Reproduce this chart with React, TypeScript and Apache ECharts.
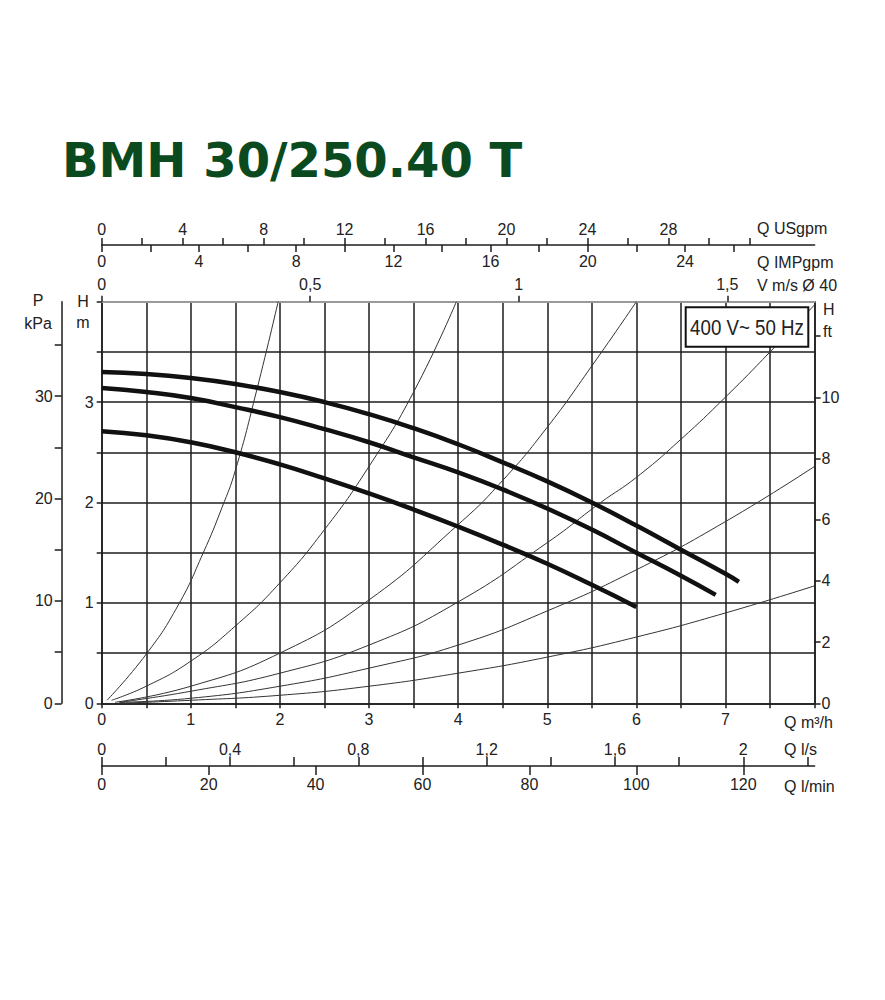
import { useEffect, useRef } from 'react';
import * as echarts from 'echarts';

// pump curves, Q m3/h -> H m
const pumpHigh: [number, number][] = [
  [0, 3.3], [0.5, 3.28], [1, 3.24], [1.5, 3.18], [2, 3.1], [2.5, 3.0], [3, 2.88], [3.5, 2.74],
  [4, 2.58], [4.5, 2.4], [5, 2.21], [5.5, 2.0], [6, 1.77], [6.5, 1.53], [7, 1.29], [7.15, 1.21],
];
const pumpMid: [number, number][] = [
  [0, 3.14], [0.5, 3.1], [1, 3.04], [1.5, 2.95], [2, 2.85], [2.5, 2.73], [3, 2.6], [3.5, 2.45],
  [4, 2.3], [4.5, 2.13], [5, 1.94], [5.5, 1.73], [6, 1.5], [6.5, 1.27], [6.89, 1.08],
];
const pumpLow: [number, number][] = [
  [0, 2.71], [0.5, 2.67], [1, 2.6], [1.5, 2.5], [2, 2.38], [2.5, 2.24], [3, 2.09], [3.5, 1.93],
  [4, 1.76], [4.5, 1.58], [5, 1.39], [5.5, 1.18], [6, 0.96],
];

// system curves (thin lines)
const sys1: [number, number][] = [[0.06, 0.03], [0.5, 0.49], [0.86, 0.98], [1.14, 1.5], [1.35, 1.95], [1.5, 2.32], [1.74, 3.12], [1.98, 4.0]];
const sys2: [number, number][] = [[0.11, 0.03], [0.5, 0.17], [1, 0.42], [1.5, 0.77], [2, 1.2], [2.5, 1.73], [3, 2.36], [3.5, 3.1], [3.98, 4.0]];
const sys3: [number, number][] = [[0.15, 0.01], [1, 0.17], [2, 0.5], [3, 1.03], [4, 1.78], [4.5, 2.22], [5, 2.75], [5.5, 3.36], [6, 4.0]];
const sys4: [number, number][] = [[0.2, 0.01], [1, 0.12], [2, 0.3], [3, 0.58], [4, 1.01], [5, 1.6], [5.6, 2.0], [6, 2.25], [6.5, 2.63], [7, 3.05], [7.5, 3.5], [8, 3.97]];
const sys5: [number, number][] = [[0.2, 0.01], [1, 0.05], [2, 0.17], [3, 0.35], [4, 0.58], [5, 0.92], [6, 1.33], [7, 1.81], [8, 2.36]];
const sys6: [number, number][] = [[0.2, 0.0], [1, 0.03], [2, 0.08], [3, 0.17], [4, 0.3], [5, 0.46], [6, 0.66], [7, 0.9], [8, 1.17]];

// tick / label values per axis
const flowLabels = [0, 1, 2, 3, 4, 5, 6, 7];
const headLabels = [0, 1, 2, 3];
const lsTicks = [0, 0.2, 0.4, 0.6, 0.8, 1, 1.2, 1.4, 1.6, 1.8, 2, 2.2];
const lsLabels = [0, 0.4, 0.8, 1.2, 1.6, 2];
const lminTicks = [0, 20, 40, 60, 80, 100, 120];
const velTicks = [0, 0.5, 1, 1.5];
const usTicks = [0, 2, 4, 6, 8, 10, 12, 14, 16, 18, 20, 22, 24, 26, 28, 30, 32];
const usLabels = [0, 4, 8, 12, 16, 20, 24, 28];
const impTicks = [0, 2, 4, 6, 8, 10, 12, 14, 16, 18, 20, 22, 24, 26];
const impLabels = [0, 4, 8, 12, 16, 20, 24];
const kpaTicks = [0, 5, 10, 15, 20, 25, 30, 35];
const kpaLabels = [0, 10, 20, 30];
const ftTicks = [0, 2, 4, 6, 8, 10, 12];
const ftLabels = [0, 2, 4, 6, 8, 10];

const dark = '#1c1c1c';
const txt = { fontFamily: 'Liberation Sans', fontSize: 16, color: '#222' };
const comma = (v: number) => String(v).replace('.', ',');

const label = (text: string, x: number, y: number, align = 'left') => ({
  type: 'text',
  x: x - 8,
  y: y - 8,
  z: 50,
  style: {
    text,
    fill: '#222',
    font: '16px "Liberation Sans"',
    textAlign: align,
    textVerticalAlign: 'middle',
  },
});

export default function App() {
  const chartRef = useRef<HTMLDivElement>(null);

  useEffect(() => {
    const chart = echarts.init(chartRef.current, null, { renderer: 'svg' });

    const pump = (data: [number, number][]) => ({
      type: 'line', data, smooth: true, symbol: 'none', silent: true, z: 5,
      lineStyle: { color: '#111', width: 4.5 },
    });
    const sys = (data: [number, number][]) => ({
      type: 'line', data, smooth: true, symbol: 'none', silent: true, z: 3,
      lineStyle: { color: '#333', width: 1 },
    });

    chart.setOption({
      animation: false,
      grid: { left: 93.7, top: 293.7, width: 712.9, height: 401.6, outerBoundsMode: 'none' },
      xAxis: [
        {
          type: 'value', position: 'bottom', min: 0, max: 8, interval: 0.5,
          axisLine: { show: true, onZero: false, lineStyle: { color: dark, width: 1.5 } },
          axisTick: { show: true, length: 5, lineStyle: { color: dark, width: 1.5 } },
          axisLabel: { ...txt, margin: 8, customValues: flowLabels },
          splitLine: { show: true, lineStyle: { color: dark, width: 1.5 } },
        },
        {
          type: 'value', position: 'bottom', offset: 62.7, min: 0, max: 8 / 3.6,
          axisLine: { show: true, onZero: false, lineStyle: { color: dark, width: 1.5 } },
          axisTick: { show: true, inside: true, length: 9, customValues: lsTicks, lineStyle: { color: dark, width: 1.5 } },
          axisLabel: { ...txt, inside: true, margin: 9, customValues: lsLabels, formatter: comma },
          splitLine: { show: false },
        },
        {
          type: 'value', position: 'bottom', offset: 62.7, min: 0, max: 8 / 0.06,
          axisLine: { show: false, onZero: false },
          axisTick: { show: true, length: 9, customValues: lminTicks, lineStyle: { color: dark, width: 1.5 } },
          axisLabel: { ...txt, margin: 10, customValues: lminTicks },
          splitLine: { show: false },
        },
        {
          type: 'value', position: 'top', offset: 0, min: 0, max: 8 / 4.68,
          axisLine: { show: true, onZero: false, lineStyle: { color: '#9a9a9a', width: 2 } },
          axisTick: { show: true, length: 6, customValues: velTicks, lineStyle: { color: dark, width: 1.5 } },
          axisLabel: { ...txt, margin: 9, customValues: velTicks, formatter: comma },
          splitLine: { show: false },
        },
        {
          type: 'value', position: 'top', offset: 56.7, min: 0, max: 8 / 0.2271247,
          axisLine: { show: true, onZero: false, lineStyle: { color: dark, width: 1.5 } },
          axisTick: { show: true, length: 7, customValues: usTicks, lineStyle: { color: dark, width: 1.5 } },
          axisLabel: { ...txt, margin: 8, customValues: usLabels },
          splitLine: { show: false },
        },
        {
          type: 'value', position: 'top', offset: 56.7, min: 0, max: 8 / 0.2727654,
          axisLine: { show: false, onZero: false },
          axisTick: { show: true, inside: true, length: 7, customValues: impTicks, lineStyle: { color: dark, width: 1.5 } },
          axisLabel: { ...txt, inside: true, margin: 8, customValues: impLabels },
          splitLine: { show: false },
        },
      ],
      yAxis: [
        {
          type: 'value', position: 'left', min: 0, max: 4, interval: 0.5,
          axisLine: { show: true, onZero: false, lineStyle: { color: dark, width: 1.5 } },
          axisTick: { show: true, length: 5, lineStyle: { color: dark, width: 1.5 } },
          axisLabel: { ...txt, margin: 8, customValues: headLabels },
          splitLine: { show: true, showMaxLine: false, lineStyle: { color: dark, width: 1.5 } },
        },
        {
          type: 'value', position: 'left', offset: 40, min: 0, max: 4 * 9.80665,
          axisLine: { show: true, onZero: false, lineStyle: { color: dark, width: 1.5 } },
          axisTick: { show: true, length: 7, customValues: kpaTicks, lineStyle: { color: dark, width: 1.5 } },
          axisLabel: { ...txt, margin: 9, customValues: kpaLabels },
          splitLine: { show: false },
        },
        {
          type: 'value', position: 'right', min: 0, max: 4 / 0.3048,
          axisLine: { show: true, onZero: false, lineStyle: { color: dark, width: 1.5 } },
          axisTick: { show: true, length: 6, customValues: ftTicks, lineStyle: { color: dark, width: 1.5 } },
          axisLabel: { ...txt, margin: 7, customValues: ftLabels },
          splitLine: { show: false },
        },
      ],
      series: [
        sys(sys1), sys(sys2), sys(sys3), sys(sys4), sys(sys5), sys(sys6),
        pump(pumpHigh), pump(pumpMid), pump(pumpLow),
      ],
      graphic: [
        {
          type: 'text', x: 54, y: 152, z: 50,
          style: {
            text: 'BMH 30/250.40 T', fill: '#0b4a1e',
            font: 'bold 48px "DejaVu Sans"', textAlign: 'left', textVerticalAlign: 'middle',
          },
        },
        label('P', 38, 300, 'center'),
        label('kPa', 38, 323, 'center'),
        label('H', 83, 301, 'center'),
        label('m', 83, 322, 'center'),
        label('H', 823, 309),
        label('ft', 823, 331),
        label('Q USgpm', 757, 228),
        label('Q IMPgpm', 757, 262),
        label('V m/s Ø 40', 757, 285),
        label('Q m³/h', 784, 722),
        label('Q l/s', 784, 749),
        label('Q l/min', 784, 786),
        {
          type: 'rect', z: 60,
          shape: { x: 677.7, y: 299.3, width: 122.6, height: 39.4 },
          style: { fill: '#fff', stroke: '#111', lineWidth: 2 },
        },
        {
          type: 'text', x: 739, y: 319, z: 61, scaleX: 0.85,
          style: {
            text: '400 V~ 50 Hz', fill: '#222', font: '22px "Liberation Sans"',
            textAlign: 'center', textVerticalAlign: 'middle',
          },
        },
      ],
    });

    return () => {
      chart.dispose();
    };
  }, []);

  return <div ref={chartRef} style={{ width: '869px', height: '984px' }} />;
}
